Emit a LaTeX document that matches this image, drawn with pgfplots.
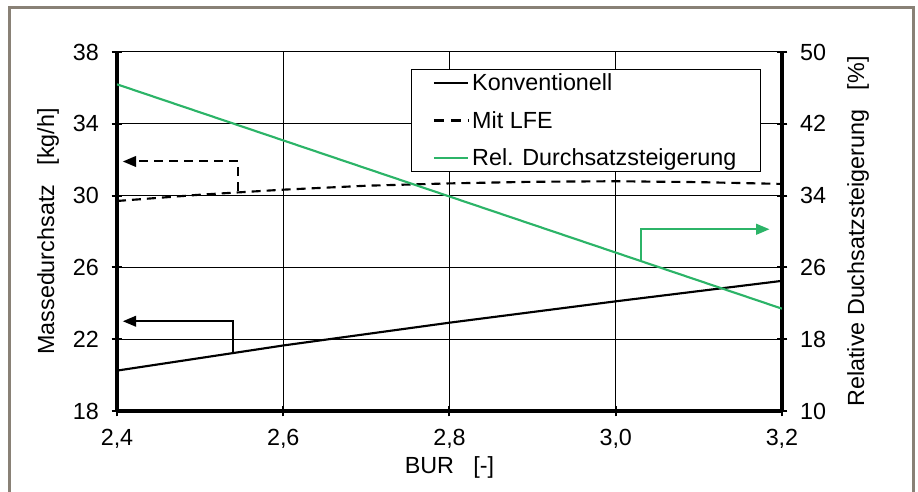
\documentclass[border=0pt]{standalone}
\usepackage{fontspec}
\setmainfont{Liberation Sans}
\usepackage{pgfplots}
\pgfplotsset{compat=1.18}
\usetikzlibrary{arrows.meta}
\definecolor{grn}{RGB}{44,180,104}
\definecolor{framec}{RGB}{137,129,118}
\begin{document}
\begin{tikzpicture}
\path[use as bounding box] (-87.75pt,-60.75pt) rectangle (600.75pt,308.25pt);
\draw[framec, line width=2.25pt] (-80.25pt,-90pt) rectangle (597pt,302.25pt);
\pgfplotsset{
 common/.style={
  scale only axis, width=498.75pt, height=269.25pt,
  xmin=2.4, xmax=3.2,
  font=\fontsize{17.5}{20}\selectfont,
  /pgf/number format/assume math mode=true,
  tick align=center, major tick length=8pt,
  every tick/.style={black, line width=1.5pt},
 },
 noarrows/.style={
  axis line style={line width=2.4pt, -},
  every outer x axis line/.append style={-},
  every outer y axis line/.append style={-},
  every inner x axis line/.append style={-},
  every inner y axis line/.append style={-},
  x axis line style={-}, y axis line style={-},
 }
}
\begin{axis}[common,
  axis x line=bottom, axis y line=left, noarrows,
  ymin=18, ymax=38, ytick={18,22,26,30,34,38},
  xtick={2.4,2.6,2.8,3.0,3.2},
  xticklabel style={/pgf/number format/fixed, /pgf/number format/fixed zerofill, /pgf/number format/precision=1, /pgf/number format/use comma, yshift=-6pt},
  yticklabel style={xshift=-6pt},
  grid=major, grid style={black, line width=0.75pt},
  xlabel={BUR\ \ \ [-]},
  every axis x label/.style={at={(0.5,-0.156)}, anchor=center},
  ylabel={Massedurchsatz\ \ \ [kg/h]},
  every axis y label/.style={at={(-0.1038,0.5)}, rotate=90, anchor=center},
]
\addplot[black, line width=1.6pt] coordinates {(2.4,20.25) (2.6,21.65) (2.8,22.92) (3.0,24.11) (3.2,25.25)};
\addplot[black, line width=1.6pt, dash pattern=on 6.75pt off 4.5pt] coordinates {(2.4,29.70) (2.5,30.05) (2.6,30.33) (2.7,30.55) (2.8,30.68) (2.9,30.77) (3.0,30.8) (3.1,30.75) (3.2,30.65)};
\addplot[black, line width=1.5pt, -{Triangle[length=10pt,width=8pt]}] coordinates {(2.54,21.25) (2.54,23.0) (2.407,23.0)};
\addplot[black, line width=1.5pt, dash pattern=on 6.75pt off 4.5pt, -{Triangle[length=10pt,width=8pt]}] coordinates {(2.546,30.25) (2.546,31.9) (2.407,31.9)};
\end{axis}
\begin{axis}[common,
  axis x line=none, axis y line=right, noarrows,
  ymin=10, ymax=50, ytick={10,18,26,34,42,50},
  yticklabel style={xshift=6pt},
  ylabel={Relative Duchsatzsteigerung\ \ \ [\%]},
  every axis y label/.style={at={(1.1143,0.5)}, rotate=90, anchor=center},
  legend image code/.code={\draw[#1] (0pt,0pt) -- (26pt,0pt);},
  legend style={at={(0.442,0.9526)}, anchor=north west, draw=black, line width=0.75pt, fill=white,
    cells={anchor=west}, row sep=10pt, inner xsep=16pt, inner ysep=1pt, font=\fontsize{17.5}{20}\selectfont},
]
\addlegendimage{black, line width=1.6pt}
\addlegendentry{Konventionell}
\addlegendimage{black, line width=1.6pt, dash pattern=on 7.5pt off 5.25pt}
\addlegendentry{Mit LFE}
\addplot[grn, line width=1.6pt] coordinates {(2.4,46.4) (3.2,21.4)};
\addlegendentry{Rel. Durchsatzsteigerung}
\addplot[grn, line width=1.5pt, -{Triangle[length=10pt,width=8pt]}, forget plot] coordinates {(3.03,26.7) (3.03,30.25) (3.185,30.25)};
\end{axis}
\end{tikzpicture}
\end{document}
